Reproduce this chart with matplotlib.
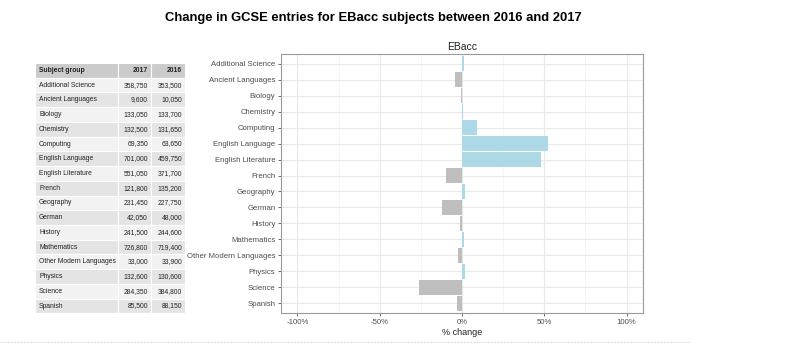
import matplotlib
matplotlib.use('Agg')
from matplotlib import pyplot as plt
from matplotlib.patches import Rectangle
from matplotlib.lines import Line2D
from matplotlib.ticker import FixedLocator, FuncFormatter

plt.rcParams['font.family'] = ['Liberation Sans', 'DejaVu Sans']

subjects = ['Additional Science', 'Ancient Languages', 'Biology', 'Chemistry', 'Computing',
            'English Language', 'English Literature', 'French', 'Geography', 'German',
            'History', 'Mathematics', 'Other Modern Languages', 'Physics', 'Science', 'Spanish']
entries_2017 = [358750, 9600, 133050, 132500, 69350, 701000, 551050, 121800, 231450,
                42050, 241500, 726800, 33000, 132600, 284350, 85500]
entries_2016 = [353500, 10050, 133700, 131650, 63650, 459750, 371700, 135200, 227750,
                48000, 244600, 719400, 33900, 130600, 384800, 88150]

pct_change = [(a - b) / b * 100 for a, b in zip(entries_2017, entries_2016)]

W, H = 800, 362
fig = plt.figure(figsize=(8, 3.62), dpi=100)

fig.text(373 / W, 1 - 18 / H, 'Change in GCSE entries for EBacc subjects between 2016 and 2017',
         ha='center', va='center', fontsize=9.4, fontweight='bold')

# --- table on the left ---
tab = fig.add_axes([0, 0, 1, 1])
tab.set_xlim(0, W)
tab.set_ylim(H, 0)
tab.axis('off')

col_edges = [35, 118, 151, 185]
top, row_h = 63, 14.73
rows = [('Subject group', '2017', '2016')] + [
    (s, f'{a:,}', f'{b:,}') for s, a, b in zip(subjects, entries_2017, entries_2016)]
for i, row in enumerate(rows):
    y0 = top + i * row_h
    if i == 0:
        colour = '#cbcbcb'
    elif i % 2 == 1:
        colour = '#f2f2f2'
    else:
        colour = '#e4e4e4'
    for j in range(3):
        tab.add_patch(Rectangle((col_edges[j], y0), col_edges[j + 1] - col_edges[j], row_h,
                                facecolor=colour, edgecolor='white', linewidth=0.8))
    weight = 'bold' if i == 0 else 'normal'
    yc = y0 + row_h / 2
    tab.text(col_edges[0] + 4, yc, row[0], ha='left', va='center', fontsize=4.9,
             fontweight=weight, color='#222222')
    tab.text(col_edges[2] - 3, yc, row[1], ha='right', va='center', fontsize=4.9,
             fontweight=weight, color='#222222')
    tab.text(col_edges[3] - 3, yc, row[2], ha='right', va='center', fontsize=4.9,
             fontweight=weight, color='#222222')

tab.add_line(Line2D([0, 690], [342, 342], color='#dddddd', linewidth=0.8, linestyle=(0, (2, 1))))

# --- bar chart ---
x0, x1, y0, y1 = 281, 643, 54, 313
ax = fig.add_axes([x0 / W, 1 - y1 / H, (x1 - x0) / W, (y1 - y0) / H])
ypos = list(range(len(subjects)))
colours = ['#add8e6' if v >= 0 else '#bebebe' for v in pct_change]
ax.barh(ypos, pct_change, height=0.9, color=colours, zorder=2)
ax.set_xlim(-110, 110)
ax.set_ylim(len(subjects) - 0.4, -0.6)
ax.set_yticks(ypos)
ax.set_yticklabels(subjects)
ax.xaxis.set_major_locator(FixedLocator([-100, -50, 0, 50, 100]))
ax.xaxis.set_minor_locator(FixedLocator([-75, -25, 25, 75]))
ax.xaxis.set_major_formatter(FuncFormatter(lambda v, p: f'{v:.0f}%'))
ax.grid(True, which='major', color='#e8e8e8', linewidth=0.8, zorder=0)
ax.grid(True, which='minor', axis='x', color='#f2f2f2', linewidth=0.5, zorder=0)
ax.set_axisbelow(True)
for s in ax.spines.values():
    s.set_color('#999999')
    s.set_linewidth(0.8)
ax.tick_params(axis='both', which='major', labelsize=5.6, labelcolor='#4d4d4d',
               color='#555555', length=2.5, width=0.6, pad=1.5)
ax.tick_params(axis='x', which='minor', length=0)
ax.set_title('EBacc', fontsize=7.5, color='#222222', pad=3)
ax.set_xlabel('% change', fontsize=6.5, color='#222222', labelpad=2)

fig.savefig('out.png', dpi=100)
